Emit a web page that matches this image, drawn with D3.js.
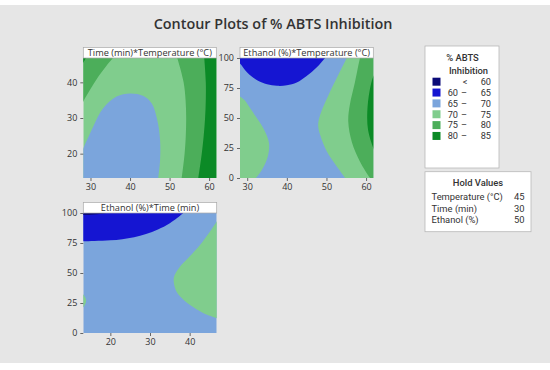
<!DOCTYPE html>
<html>
<head>
<meta charset="utf-8">
<script src="https://cdn.jsdelivr.net/npm/d3@7"></script>
<style>
  body { margin: 0; background: #fff; }
  svg { display: block; }
  text { font-family: "Open Sans", "Noto Sans", sans-serif; fill: #333; }
  .caja text { font-family: Roboto, "Open Sans", sans-serif; }
</style>
</head>
<body>
<svg id="grafico" width="550" height="370"></svg>
<script>
// Bandas de % ABTS Inhibition (leyenda)
const bandaDesde = ['', '60', '65', '70', '75', '80'];
const bandaSigno = ['<', '–', '–', '–', '–', '–'];
const bandaHasta = ['60', '65', '70', '75', '80', '85'];

// Rangos y ticks de los factores
const rangoTemp = [28.18, 61.82];
const rangoTiempo = [13.18, 46.82];
const rangoEtanol = [0, 100];
const ticksTemp = [30, 40, 50, 60];
const ticksTiempo = [20, 30, 40];
const ticksEtanol = [0, 25, 50, 75, 100];

// Valores fijos
const nombresFijos = ['Temperature (°C)', 'Time (min)', 'Ethanol (%)'];
const valoresFijos = [45, 30, 50];

// Curvas de nivel, [x, y] en unidades de los ejes
// Panel 1: Time vs Temperature
const p1Curva70 = [[27.5, 20.0], [28.18, 21.5], [30.7, 27.6], [33.2, 32.7], [36.6, 36.0], [40.0, 36.9], [43.4, 36.2], [45.5, 34.1], [46.9, 29.4], [47.6, 23.8], [47.6, 18.2], [47.15, 13.2], [47.1, 12.5]];
const p1Curva75a = [[36.2, 47.5], [34.0, 44.6], [32.0, 41.6], [30.0, 38.1], [28.18, 34.65], [27.5, 33.3]];
const p1Curva80a = [[29.2, 47.5], [28.83, 46.82], [28.18, 45.55], [27.5, 44.25]];
const p1Curva75b = [[51.7, 47.5], [51.94, 46.82], [53.55, 40], [54.05, 35], [54.2, 30], [54.1, 25], [53.8, 20], [53.06, 13.18], [52.97, 12.5]];
const p1Curva80b = [[58.7, 47.5], [58.77, 46.82], [59.16, 40], [59.16, 35], [58.98, 30], [58.63, 25], [58.14, 20], [57.26, 13.18], [57.16, 12.5]];

// Panel 2: Ethanol vs Temperature
const p2Curva65 = [[27.5, 97.5], [28.18, 95.5], [30, 88], [32.5, 81.5], [35, 78.2], [37.5, 76.8], [40, 77.2], [42.5, 79.5], [45, 85], [47.5, 92], [49.65, 100], [50.3, 102.5]];
const p2Curva70a = [[27.5, 70], [28.18, 68], [29.3, 65], [30.8, 58], [32.2, 51], [34.3, 40], [35.5, 29], [35.2, 18], [33.9, 8], [32.2, 0], [31.3, -3]];
const p2Curva70b = [[55.4, 102.5], [55.1, 100], [53.0, 86], [50.5, 69], [48.4, 52.5], [47.9, 44], [48.4, 36], [50.1, 22], [52.3, 11], [54.7, 0], [55.2, -2.5]];
const p2Curva75 = [[58.7, 102.5], [58.46, 100], [57.2, 80], [55.9, 61], [55.5, 47], [56.4, 30], [58.4, 14], [61.0, 0], [61.5, -2]];
const p2Curva80 = [[62.5, 88], [61.82, 84.5], [60.9, 73], [60.3, 55], [60.5, 40], [61.82, 25], [62.5, 20]];

// Panel 3: Ethanol vs Time
const p3Curva65 = [[12.5, 76.3], [13.18, 76.4], [16, 76.6], [20, 77.2], [23, 78.2], [26, 79.8], [29, 82.5], [32, 86.3], [35, 91.5], [38.4, 100], [39.3, 103]];
const p3Curva60 = [[12.5, 98.2], [13.18, 98.3], [16, 98.8], [19, 100], [20, 101]];
const p3Curva70a = [[47.5, 97], [46.82, 93], [42.6, 73.3], [39.5, 62], [37.5, 55], [36.0, 46], [36.6, 35], [38.2, 28.5], [40.1, 23.3], [43.5, 16.5], [46.82, 12.3], [47.5, 11]];
const p3Curva70b = [[12.5, 33], [13.18, 32], [13.9, 27], [13.18, 21.5], [12.5, 20.5]];

// Colores por banda (de <60 a 80-85)
const coloresBanda = ['#0b0b78', '#1515d2', '#7ba5dc', '#80cd8d', '#4cae5a', '#0b8a26'];

const paneles = [
  {
    titulo: 'Time (min)*Temperature (°C)', caja: [83.3, 58, 133, 120],
    xr: rangoTemp, yr: rangoTiempo, xt: ticksTemp, yt: ticksTiempo, base: 3,
    zonas: [
      { banda: 2, curva: p1Curva70, cierre: ['bl'] },
      { banda: 4, curva: p1Curva75a, cierre: ['tl'] },
      { banda: 5, curva: p1Curva80a, cierre: ['tl'] },
      { banda: 4, curva: p1Curva75b, cierre: ['br', 'tr'] },
      { banda: 5, curva: p1Curva80b, cierre: ['br', 'tr'] }
    ]
  },
  {
    titulo: 'Ethanol (%)*Temperature (°C)', caja: [240, 58, 133.3, 120],
    xr: rangoTemp, yr: rangoEtanol, xt: ticksTemp, yt: ticksEtanol, base: 2,
    zonas: [
      { banda: 1, curva: p2Curva65, cierre: ['tl'] },
      { banda: 3, curva: p2Curva70a, cierre: ['bl'] },
      { banda: 3, curva: p2Curva70b, cierre: ['br', 'tr'] },
      { banda: 4, curva: p2Curva75, cierre: ['br', 'tr'] },
      { banda: 5, curva: p2Curva80, cierre: [] }
    ]
  },
  {
    titulo: 'Ethanol (%)*Time (min)', caja: [83.3, 213, 133.4, 120],
    xr: rangoTiempo, yr: rangoEtanol, xt: ticksTiempo, yt: ticksEtanol, base: 2,
    zonas: [
      { banda: 1, curva: p3Curva65, cierre: ['tl'] },
      { banda: 0, curva: p3Curva60, cierre: ['tl'] },
      { banda: 3, curva: p3Curva70a, cierre: [] },
      { banda: 3, curva: p3Curva70b, cierre: [] }
    ]
  }
];

const svg = d3.select('#grafico');

// Fondo gris
svg.append('rect').attr('x', 0).attr('y', 5).attr('width', 550).attr('height', 358).attr('fill', '#e6e6e6');

// Titulo
svg.append('text')
  .attr('x', 273).attr('y', 29)
  .attr('text-anchor', 'middle')
  .attr('font-size', 14.4).attr('font-weight', 600)
  .text('Contour Plots of % ABTS Inhibition');

const defs = svg.append('defs');
const linea = d3.line().curve(d3.curveCatmullRom.alpha(0.5));

paneles.forEach((p, i) => {
  const [x0, y0, w, h] = p.caja;
  const x = d3.scaleLinear().domain(p.xr).range([x0, x0 + w]);
  const y = d3.scaleLinear().domain(p.yr).range([y0 + h, y0]);

  defs.append('clipPath').attr('id', `recorte${i}`)
    .append('rect').attr('x', x0).attr('y', y0).attr('width', w).attr('height', h);

  const g = svg.append('g').attr('clip-path', `url(#recorte${i})`);
  g.append('rect').attr('x', x0).attr('y', y0).attr('width', w).attr('height', h)
    .attr('fill', coloresBanda[p.base]);

  // Esquinas fuera del area para cerrar las zonas
  const esquinas = {
    tl: [x0 - 12, y0 - 12], tr: [x0 + w + 12, y0 - 12],
    bl: [x0 - 12, y0 + h + 12], br: [x0 + w + 12, y0 + h + 12]
  };

  g.selectAll('path.zona').data(p.zonas).enter().append('path')
    .attr('class', 'zona')
    .attr('fill', d => coloresBanda[d.banda])
    .attr('d', d => {
      const pts = d.curva.map(c => [x(c[0]), y(c[1])]);
      return linea(pts) + d.cierre.map(k => `L${esquinas[k][0]},${esquinas[k][1]}`).join('') + 'Z';
    });

  // Ejes
  const ejeX = svg.append('g').attr('transform', `translate(0,${y0 + h})`)
    .call(d3.axisBottom(x).tickValues(p.xt).tickSize(3).tickPadding(3));
  const ejeY = svg.append('g').attr('transform', `translate(${x0},0)`)
    .call(d3.axisLeft(y).tickValues(p.yt).tickSize(3).tickPadding(3));
  [ejeX, ejeY].forEach(e => {
    e.select('.domain').remove();
    e.selectAll('line').attr('stroke', '#666');
    e.selectAll('text').attr('font-size', 9).attr('fill', '#333').attr('font-family', '"Open Sans", sans-serif');
  });

  // Cabecera del panel
  svg.append('rect').attr('x', x0).attr('y', y0 - 10.5).attr('width', w).attr('height', 10.5)
    .attr('fill', '#fff').attr('stroke', '#a8a8a8').attr('stroke-width', 0.7);
  svg.append('text').attr('x', x0 + w / 2).attr('y', y0 - 2.2)
    .attr('text-anchor', 'middle').attr('font-size', 9.2)
    .text(p.titulo);
});

// Leyenda
const ley = svg.append('g').attr('class', 'caja');
ley.append('rect').attr('x', 425).attr('y', 46).attr('width', 74).attr('height', 122)
  .attr('fill', '#fff').attr('stroke', '#b8b8b8').attr('stroke-width', 0.8);
ley.append('text').attr('x', 462.5).attr('y', 60.5).attr('text-anchor', 'middle')
  .attr('font-size', 9.4).attr('font-weight', 500).text('% ABTS');
ley.append('text').attr('x', 468.5).attr('y', 74).attr('text-anchor', 'middle')
  .attr('font-size', 9.4).attr('font-weight', 500).text('Inhibition');

const filas = ley.selectAll('g.fila').data(bandaHasta).enter().append('g')
  .attr('class', 'fila')
  .attr('transform', (d, i) => `translate(0,${81.7 + i * 10.85})`);
filas.append('rect').attr('x', 432.5).attr('y', -4).attr('width', 8).attr('height', 8)
  .attr('fill', (d, i) => coloresBanda[i]);
filas.append('text').attr('x', 458).attr('y', 3.3).attr('text-anchor', 'end').attr('font-size', 9.2)
  .text((d, i) => bandaDesde[i]);
filas.append('text').attr('x', (d, i) => i === 0 ? 465 : 464).attr('y', 3.3).attr('text-anchor', 'middle').attr('font-size', 9.2)
  .text((d, i) => bandaSigno[i]);
filas.append('text').attr('x', 491).attr('y', 3.3).attr('text-anchor', 'end').attr('font-size', 9.2)
  .text(d => d);

// Valores fijos
const fijos = svg.append('g').attr('class', 'caja');
fijos.append('rect').attr('x', 425).attr('y', 171.7).attr('width', 106).attr('height', 60)
  .attr('fill', '#fff').attr('stroke', '#b8b8b8').attr('stroke-width', 0.8);
fijos.append('text').attr('x', 478).attr('y', 185.5).attr('text-anchor', 'middle')
  .attr('font-size', 9.4).attr('font-weight', 500).text('Hold Values');
nombresFijos.forEach((n, i) => {
  fijos.append('text').attr('x', 431.5).attr('y', 200 + i * 11.7).attr('font-size', 9.4).text(n);
  fijos.append('text').attr('x', 524.5).attr('y', 200 + i * 11.7).attr('text-anchor', 'end')
    .attr('font-size', 9.4).text(valoresFijos[i]);
});
</script>
</body>
</html>
